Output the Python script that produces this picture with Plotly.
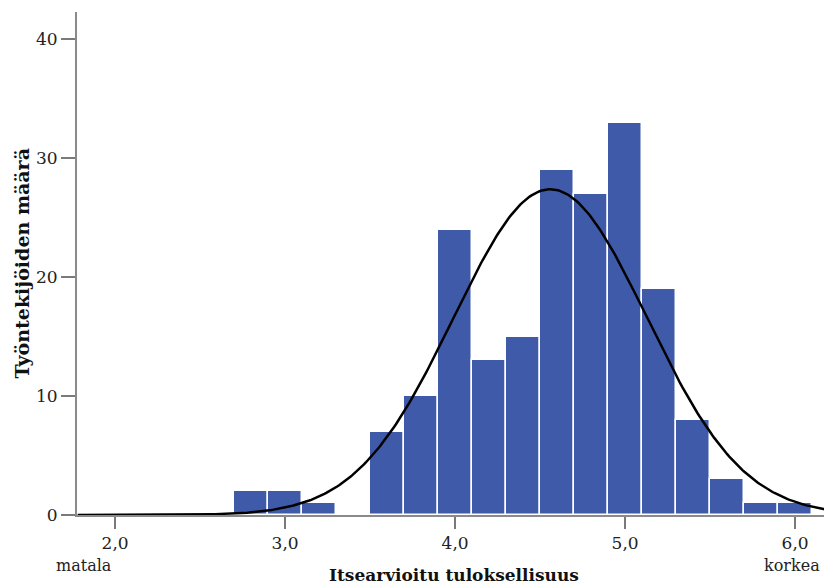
import numpy as np
import plotly.graph_objects as go

# Histogram bins (left edges) and counts
bin_left = [2.7, 2.9, 3.1, 3.3, 3.5, 3.7, 3.9, 4.1, 4.3, 4.5, 4.7, 4.9, 5.1, 5.3, 5.5, 5.7, 5.9]
counts = [2, 2, 1, 0, 7, 10, 24, 13, 15, 29, 27, 33, 19, 8, 3, 1, 1]
bin_width = 0.2

# Normal curve parameters (SPSS overlay)
mean_val = 4.56
sd_val = 0.568
n_total = sum(counts)

x_ticks = [2.0, 3.0, 4.0, 5.0, 6.0]
x_tick_text = ["2,0", "3,0", "4,0", "5,0", "6,0"]
y_ticks = [0, 10, 20, 30, 40]
y_tick_text = ["0", "10", "20", "30", "40"]

x_title = "Itsearvioitu tuloksellisuus"
y_title = "Työntekijöiden määrä"
low_label = "matala"
high_label = "korkea"

centers = [b + bin_width / 2 for b in bin_left]
xc = np.linspace(1.78, 6.2, 400)
yc = n_total * bin_width / (sd_val * np.sqrt(2 * np.pi)) * np.exp(-0.5 * ((xc - mean_val) / sd_val) ** 2)

font_family = "DejaVu Serif, Liberation Serif, serif"

fig = go.Figure()
fig.add_trace(go.Bar(
    x=centers, y=counts, width=bin_width,
    marker=dict(color="rgb(63,90,168)", line=dict(color="white", width=1.5)),
    hoverinfo="x+y",
))
fig.add_trace(go.Scatter(x=xc, y=yc, mode="lines", line=dict(color="black", width=2.5), hoverinfo="skip"))

fig.update_layout(
    width=824, height=586,
    margin=dict(l=77, r=0, t=12, b=71),
    plot_bgcolor="white", paper_bgcolor="white",
    showlegend=False, bargap=0,
    font=dict(family=font_family, size=16, color="#222"),
)
fig.update_xaxes(
    range=[1.776, 6.17], tickvals=x_ticks, ticktext=x_tick_text,
    showgrid=False, zeroline=False,
    showline=True, linecolor="#8a8a8a", linewidth=2,
    ticks="outside", ticklen=12, tickwidth=2, tickcolor="#7a7a7a",
    tickfont=dict(size=17), layer="below traces",
)
fig.update_yaxes(
    range=[0, 42.3], tickvals=y_ticks, ticktext=y_tick_text,
    showgrid=False, zeroline=False,
    showline=True, linecolor="#8a8a8a", linewidth=2,
    ticks="outside", ticklen=14, tickwidth=2, tickcolor="#7a7a7a",
    tickfont=dict(size=17), layer="below traces",
)

fig.add_annotation(text=low_label, x=1.82, xref="x", y=-0.1, yref="paper",
                   showarrow=False, font=dict(size=16, color="#222"), yanchor="middle")
fig.add_annotation(text=high_label, x=5.98, xref="x", y=-0.1, yref="paper",
                   showarrow=False, font=dict(size=16, color="#222"), yanchor="middle")
fig.add_annotation(text="<b>" + x_title + "</b>", x=0.505, xref="paper", y=-0.119, yref="paper",
                   showarrow=False, font=dict(size=17, color="#111"), yanchor="middle")
fig.add_annotation(text="<b>" + y_title + "</b>", x=0, xref="paper", xshift=-56, y=0.5, yref="paper",
                   showarrow=False, textangle=-90, font=dict(size=19, color="#111"),
                   xanchor="center", yanchor="middle")

fig.write_html("out.html")
